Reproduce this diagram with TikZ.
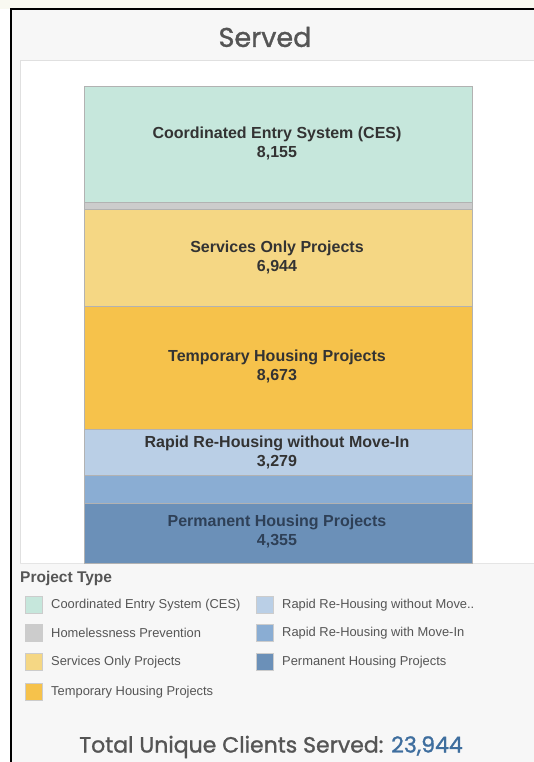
\documentclass[tikz,border=0pt]{standalone}
\usepackage{fontspec}
\setmainfont{Liberation Sans}
\newfontfamily\titlefont{Poppins}[FakeBold=1.2]
\definecolor{ces}{HTML}{C6E7DC}
\definecolor{hp}{HTML}{CCCCCC}
\definecolor{svc}{HTML}{F5D784}
\definecolor{tmp}{HTML}{F6C24B}
\definecolor{rrhno}{HTML}{BACFE6}
\definecolor{rrhin}{HTML}{8AADD3}
\definecolor{perm}{HTML}{6B90B8}
\definecolor{txtgray}{HTML}{555555}
\definecolor{bartxt}{HTML}{333333}
\definecolor{permtxt}{HTML}{2E4057}
\definecolor{totblue}{HTML}{3E6E9E}
\definecolor{panelbg}{HTML}{F7F7F7}
\definecolor{topstrip}{HTML}{F9F9F1}
\tikzset{
  barseg/.style={draw=black!30, line width=0.8pt},
  bartext/.style={font=\fontsize{16}{19}\selectfont\bfseries, text=bartxt, align=center},
  swatch/.style={draw=black!20, line width=0.6pt, minimum width=17pt, minimum height=17pt, inner sep=0pt},
  legtext/.style={font=\fontsize{12.9}{14}\selectfont, text=txtgray, anchor=west, inner sep=0pt},
}
\begin{document}
\begin{tikzpicture}[x=1pt,y=-1pt]
\useasboundingbox (0,0) rectangle (534,762);
\fill[white] (0,0) rectangle (534,762);
\fill[topstrip] (0,0) rectangle (534,9);
\fill[panelbg] (11,9) rectangle (534,762);
\draw[black, line width=1.5pt] (11,762) -- (11,9) -- (534,9);
% chart panel
\fill[white] (20,61) rectangle (534,563);
\draw[black!12, line width=1pt] (20,563) -- (20,61) -- (534,61);
\draw[black!10, line width=1pt] (20,563) -- (534,563);
% title
\node[font=\titlefont\fontsize{27}{30}\selectfont, text=txtgray] (title) at (265,37) {Served};
% bars
\draw[barseg, fill=ces]   (84,86)  rectangle (472,202);
\draw[barseg, fill=hp]    (84,202) rectangle (472,209);
\draw[barseg, fill=svc]   (84,209) rectangle (472,306);
\draw[barseg, fill=tmp]   (84,306) rectangle (472,429);
\draw[barseg, fill=rrhno] (84,429) rectangle (472,475);
\draw[barseg, fill=rrhin] (84,475) rectangle (472,503);
\draw[barseg, fill=perm]  (84,503) rectangle (472,563);
\node[bartext] (lces) at (277,143) {Coordinated Entry System (CES)\\8,155};
\node[bartext] (lsvc) at (277,257) {Services Only Projects\\6,944};
\node[bartext] (ltmp) at (277,366) {Temporary Housing Projects\\8,673};
\node[bartext] (lrrh) at (277,452) {Rapid Re-Housing without Move-In\\3,279};
\node[bartext, text=permtxt] (lperm) at (277,531) {Permanent Housing Projects\\4,355};
% legend
\node[font=\fontsize{15.5}{17}\selectfont\bfseries, text=txtgray, anchor=west, inner sep=0pt] (legtitle) at (20,578) {Project Type};
\node[swatch, fill=ces] (s1) at (33.5,605) {};
\node[legtext] (t1) at (51,605) {Coordinated Entry System (CES)};
\node[swatch, fill=hp] (s2) at (33.5,633) {};
\node[legtext] (t2) at (51,633) {Homelessness Prevention};
\node[swatch, fill=svc] (s3) at (33.5,662) {};
\node[legtext] (t3) at (51,662) {Services Only Projects};
\node[swatch, fill=tmp] (s4) at (33.5,692) {};
\node[legtext] (t4) at (51,692) {Temporary Housing Projects};
\node[swatch, fill=rrhno] (s5) at (264.5,605) {};
\node[legtext] (t5) at (282,605) {Rapid Re-Housing without Move..};
\node[swatch, fill=rrhin] (s6) at (264.5,633) {};
\node[legtext] (t6) at (282,633) {Rapid Re-Housing with Move-In};
\node[swatch, fill=perm] (s7) at (264.5,662) {};
\node[legtext] (t7) at (282,662) {Permanent Housing Projects};
% total
\node[font=\titlefont\fontsize{22}{26}\selectfont, text=txtgray] (total) at (271,747) {Total Unique Clients Served: \textcolor{totblue}{23,944}};
\end{tikzpicture}
\end{document}
